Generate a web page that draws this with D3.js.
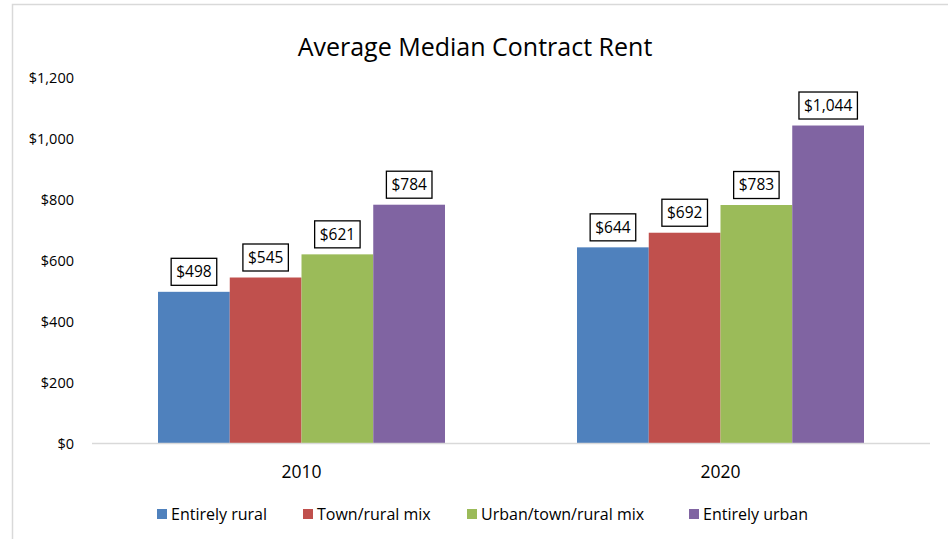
<!DOCTYPE html>
<meta charset="utf-8" />
<script src="https://d3js.org/d3.v7.js"></script>
<style>
  body { margin: 0; background: white; }
  text { font-family: "Open Sans", "Noto Sans", sans-serif; }
</style>
<div id="chart"></div>
<script>
  // data
  const years = ["2010", "2020"];
  const series = ["Entirely rural", "Town/rural mix", "Urban/town/rural mix", "Entirely urban"];
  const colors = ["#4f81bd", "#c0504d", "#9bbb59", "#8064a2"];
  const rural = [498, 644];
  const townRural = [545, 692];
  const urbanTownRural = [621, 783];
  const urban = [784, 1044];
  const yTicks = [0, 200, 400, 600, 800, 1000, 1200];

  const values = [rural, townRural, urbanTownRural, urban];

  const width = 948;
  const height = 539;

  const svg = d3
    .select("#chart")
    .append("svg")
    .attr("width", width)
    .attr("height", height);

  // outer frame
  svg.append("path")
    .attr("d", "M12.5,539 L12.5,4.5 L948,4.5")
    .attr("fill", "none")
    .attr("stroke", "#d9d9d9")
    .attr("stroke-width", 1.5);

  svg.append("text")
    .attr("x", 475)
    .attr("y", 56)
    .attr("text-anchor", "middle")
    .style("font-size", "25px")
    .style("fill", "#000")
    .text("Average Median Contract Rent");

  const x0 = d3.scaleBand().domain(years).range([92, 930]);
  const x1 = d3.scaleBand().domain(series).range([0, x0.bandwidth()]).paddingOuter(0.92);
  const y = d3.scaleLinear().domain([0, 1200]).range([443.5, 78]);

  // y axis labels
  const yAxis = svg.append("g")
    .attr("transform", "translate(80,0)")
    .call(d3.axisLeft(y).tickValues(yTicks).tickSize(0).tickPadding(6)
      .tickFormat(d => "$" + d3.format(",")(d)));
  yAxis.select(".domain").remove();
  yAxis.selectAll("text")
    .style("font-size", "14.5px")
    .style("fill", "#000")
    .style("font-family", "'Open Sans', sans-serif");

  // bars
  const groups = svg.append("g")
    .selectAll("g")
    .data(years)
    .enter()
    .append("g")
    .attr("transform", d => `translate(${x0(d)},0)`);

  series.forEach(function (s, si) {
    groups.append("rect")
      .attr("x", x1(s))
      .attr("width", x1.bandwidth())
      .attr("y", (d, i) => y(values[si][i]))
      .attr("height", (d, i) => y(0) - y(values[si][i]))
      .attr("fill", colors[si]);
  });

  // baseline
  svg.append("line")
    .attr("x1", 92)
    .attr("x2", 930)
    .attr("y1", y(0))
    .attr("y2", y(0))
    .attr("stroke", "#d9d9d9")
    .attr("stroke-width", 1.5);

  // data labels with boxes
  series.forEach(function (s, si) {
    const lab = groups.append("g")
      .attr("transform", (d, i) => `translate(${x1(s) + x1.bandwidth() / 2},${y(values[si][i]) - 20})`);
    lab.append("text")
      .attr("text-anchor", "middle")
      .attr("dy", "0.35em")
      .style("font-size", "15.5px")
      .style("fill", "#000")
      .text((d, i) => "$" + d3.format(",")(values[si][i]));
    lab.each(function () {
      const g = d3.select(this);
      const bb = g.select("text").node().getBBox();
      g.insert("rect", "text")
        .attr("x", bb.x - 5)
        .attr("y", -13.5)
        .attr("width", bb.width + 10)
        .attr("height", 27)
        .attr("fill", "white")
        .attr("stroke", "#000")
        .attr("stroke-width", 1.3);
    });
  });

  // x labels
  svg.append("g")
    .selectAll("text")
    .data(years)
    .enter()
    .append("text")
    .attr("x", d => x0(d) + x0.bandwidth() / 2)
    .attr("y", 478)
    .attr("text-anchor", "middle")
    .style("font-size", "17.5px")
    .style("fill", "#000")
    .text(d => d);

  // legend
  const legendX = [157, 303, 467, 689];
  const legend = svg.append("g")
    .selectAll("g")
    .data(series)
    .enter()
    .append("g")
    .attr("transform", (d, i) => `translate(${legendX[i]},514)`);
  legend.append("rect")
    .attr("x", 0)
    .attr("y", -5)
    .attr("width", 10)
    .attr("height", 10)
    .attr("fill", (d, i) => colors[i]);
  legend.append("text")
    .attr("x", 14)
    .attr("dy", "0.35em")
    .style("font-size", "16px")
    .style("fill", "#000")
    .text(d => d);
</script>
